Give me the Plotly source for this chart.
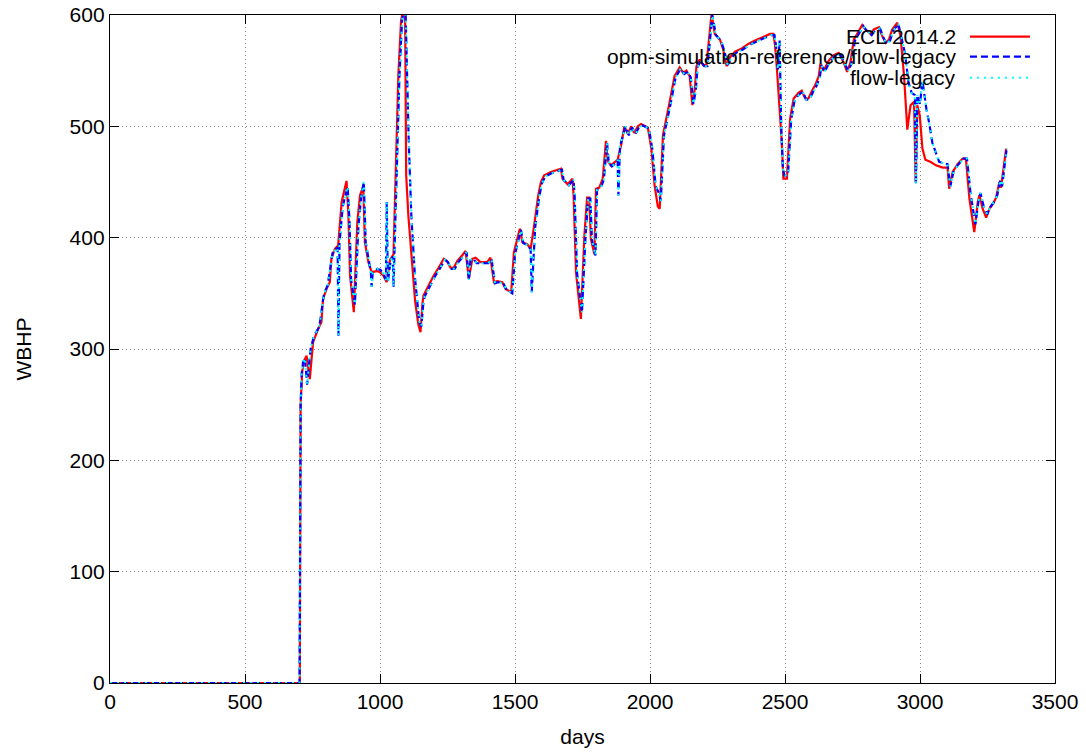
import plotly.graph_objects as go

ecl_days = [0, 700, 703, 706, 712, 720, 728, 740, 752, 771,
            783, 789, 802, 814, 820, 833, 845, 858, 876, 883,
            889, 903, 916, 926, 938, 944, 957, 969, 988, 1000,
            1012, 1025, 1037, 1050, 1062, 1068, 1078, 1083, 1093, 1097,
            1105, 1117, 1130, 1142, 1150, 1157, 1161, 1180, 1199, 1217,
            1236, 1248, 1261, 1273, 1286, 1304, 1317, 1329, 1342, 1354,
            1372, 1397, 1409, 1422, 1434, 1453, 1465, 1486, 1496, 1518,
            1527, 1546, 1558, 1571, 1586, 1596, 1608, 1633, 1670, 1676,
            1695, 1713, 1717, 1726, 1744, 1757, 1767, 1775, 1781, 1794,
            1800, 1812, 1825, 1837, 1843, 1855, 1868, 1880, 1893, 1905,
            1918, 1930, 1942, 1955, 1967, 1992, 2005, 2017, 2029, 2036,
            2048, 2061, 2073, 2091, 2110, 2123, 2135, 2147, 2157, 2166,
            2172, 2184, 2197, 2209, 2215, 2228, 2240, 2259, 2271, 2284,
            2296, 2315, 2340, 2364, 2389, 2414, 2445, 2457, 2463, 2470,
            2488, 2494, 2507, 2519, 2532, 2550, 2562, 2575, 2587, 2600,
            2612, 2625, 2631, 2643, 2662, 2680, 2699, 2718, 2730, 2742,
            2755, 2767, 2786, 2798, 2817, 2829, 2848, 2860, 2873, 2885,
            2897, 2916, 2928, 2941, 2953, 2965, 2978, 2984, 2990, 2999,
            3009, 3020, 3040, 3059, 3084, 3102, 3108, 3121, 3139, 3158,
            3170, 3183, 3201, 3214, 3220, 3232, 3245, 3257, 3270, 3282,
            3294, 3300, 3319]
ecl_wbhp = [0, 0, 0, 250, 280, 290, 294, 273, 306, 318,
            324, 345, 354, 360, 381, 390, 393, 432, 451, 420,
            366, 333, 414, 438, 446, 396, 378, 369, 370, 369,
            366, 360, 380, 385, 501, 546, 595, 601, 600, 456,
            420, 385, 343, 322, 315, 340, 348, 357, 366, 373,
            381, 379, 373, 373, 379, 384, 388, 363, 381, 382,
            378, 378, 382, 360, 361, 360, 354, 351, 387, 408,
            396, 394, 390, 411, 438, 450, 456, 459, 462, 453,
            448, 453, 438, 369, 327, 402, 436, 436, 399, 385,
            444, 445, 453, 487, 469, 465, 468, 470, 483, 500,
            493, 500, 494, 500, 502, 499, 480, 447, 428, 426,
            492, 507, 522, 545, 553, 548, 550, 545, 519, 534,
            554, 560, 555, 555, 569, 601, 583, 578, 569, 554,
            562, 567, 570, 574, 577, 580, 583, 583, 573, 552,
            486, 453, 453, 507, 525, 530, 532, 525, 525, 532,
            537, 545, 556, 550, 559, 564, 566, 557, 549, 557,
            578, 583, 591, 587, 583, 587, 589, 581, 575, 578,
            587, 593, 581, 545, 497, 519, 522, 450, 519, 510,
            480, 470, 468, 465, 463, 463, 444, 459, 466, 471,
            471, 435, 405, 432, 438, 426, 418, 426, 430, 436,
            450, 445, 480]

flow_days = [0, 702, 706, 710, 715, 722, 730, 743, 756, 775,
             787, 793, 806, 818, 824, 837, 843, 846, 850, 862,
             880, 887, 893, 907, 920, 930, 940, 947, 960, 966,
             969, 973, 990, 1002, 1014, 1022, 1025, 1029, 1040, 1048,
             1050, 1053, 1066, 1072, 1082, 1087, 1095, 1100, 1106, 1116,
             1130, 1145, 1153, 1160, 1165, 1184, 1203, 1221, 1240, 1252,
             1265, 1277, 1290, 1308, 1321, 1329, 1335, 1346, 1358, 1376,
             1401, 1413, 1426, 1438, 1457, 1469, 1490, 1500, 1522, 1531,
             1550, 1558, 1562, 1575, 1590, 1600, 1612, 1637, 1674, 1680,
             1699, 1717, 1721, 1730, 1748, 1761, 1771, 1779, 1785, 1798,
             1804, 1816, 1829, 1841, 1847, 1859, 1872, 1880, 1883, 1889,
             1897, 1909, 1922, 1934, 1946, 1959, 1971, 1996, 2009, 2021,
             2033, 2040, 2052, 2065, 2077, 2095, 2114, 2127, 2139, 2151,
             2161, 2170, 2176, 2188, 2201, 2213, 2219, 2231, 2244, 2263,
             2275, 2288, 2300, 2319, 2344, 2368, 2393, 2418, 2449, 2461,
             2467, 2474, 2480, 2486, 2492, 2498, 2511, 2523, 2536, 2554,
             2566, 2579, 2591, 2604, 2616, 2629, 2635, 2647, 2666, 2684,
             2703, 2722, 2734, 2746, 2759, 2771, 2790, 2802, 2821, 2833,
             2852, 2864, 2877, 2889, 2901, 2920, 2932, 2945, 2957, 2969,
             2981, 2985, 2990, 3000, 3009, 3024, 3034, 3046, 3071, 3102,
             3112, 3125, 3143, 3162, 3174, 3187, 3205, 3218, 3224, 3236,
             3249, 3261, 3274, 3286, 3298, 3304, 3321]
flow_wbhp = [0, 0, 250, 278, 288, 292, 268, 300, 312, 320,
             340, 350, 357, 375, 386, 390, 391, 312, 395, 428,
             446, 415, 362, 340, 410, 436, 450, 396, 378, 369,
             356, 368, 372, 371, 367, 362, 432, 360, 380, 383,
             356, 385, 498, 545, 596, 601, 600, 545, 490, 420,
             363, 325, 320, 340, 347, 356, 365, 372, 380, 378,
             372, 372, 378, 383, 387, 362, 380, 381, 377, 377,
             377, 381, 359, 360, 359, 353, 350, 385, 407, 395,
             393, 389, 351, 410, 437, 449, 455, 458, 461, 452,
             447, 452, 437, 368, 333, 400, 435, 435, 398, 384,
             443, 444, 452, 485, 468, 464, 467, 470, 438, 482,
             490, 500, 492, 499, 493, 499, 501, 498, 479, 446,
             440, 433, 492, 506, 521, 544, 552, 547, 549, 544,
             520, 533, 553, 559, 554, 554, 568, 600, 582, 577,
             568, 555, 561, 566, 569, 573, 576, 579, 582, 582,
             572, 551, 577, 500, 462, 456, 456, 506, 524, 529,
             531, 524, 524, 531, 536, 544, 555, 549, 558, 563,
             565, 556, 550, 556, 577, 582, 590, 586, 582, 586,
             588, 580, 574, 577, 586, 592, 580, 565, 540, 530,
             528, 448, 528, 520, 541, 515, 503, 485, 468, 466,
             446, 460, 466, 471, 471, 440, 412, 435, 440, 428,
             421, 428, 432, 438, 452, 446, 480]

assert len(ecl_days) == len(ecl_wbhp)
assert len(flow_days) == len(flow_wbhp)

ecl_name = "ECL 2014.2"
ref_name = "opm-simulation-reference/flow-legacy"
flow_name = "flow-legacy"
x_ticks = [0, 500, 1000, 1500, 2000, 2500, 3000, 3500]
y_ticks = [0, 100, 200, 300, 400, 500, 600]

FONT = "Liberation Sans, Arial, sans-serif"
FS = 21

fig = go.Figure()
fig.add_trace(go.Scatter(x=ecl_days, y=ecl_wbhp, mode="lines", name=ecl_name,
                         line=dict(color="#ff0000", width=2.2)))
fig.add_trace(go.Scatter(x=flow_days, y=flow_wbhp, mode="lines", name=ref_name,
                         line=dict(color="#0000ff", width=2.2, dash="7px,4px")))
fig.add_trace(go.Scatter(x=flow_days, y=flow_wbhp, mode="lines", name=flow_name,
                         line=dict(color="#00ffff", width=2, dash="2px,5px")))

# key (gnuplot-style: text right-aligned, sample on the right)
keys = [(ecl_name, "#ff0000", None, 2.2), (ref_name, "#0000ff", "7px,4px", 2.2),
        (flow_name, "#00ffff", "2px,5px", 2)]
key_y = [0.9675, 0.9376, 0.9061]
for (txt, col, dsh, w), ky in zip(keys, key_y):
    fig.add_annotation(x=0.8952, y=ky, xref="paper", yref="paper", text=txt, showarrow=False,
                       xanchor="right", yanchor="middle", xshift=2,
                       font=dict(family=FONT, size=FS, color="black"))
    fig.add_shape(type="line", xref="paper", yref="paper", x0=0.910, x1=0.9735, y0=ky, y1=ky,
                  line=dict(color=col, width=w, dash=dsh))
# key area hides grid
fig.add_shape(type="rect", xref="paper", yref="paper", x0=0.518, x1=0.995, y0=0.891, y1=0.985,
              fillcolor="white", line=dict(width=0), layer="between")

axis_common = dict(showline=True, linecolor="black", linewidth=1.3, mirror="ticks",
                   ticks="inside", ticklen=9, tickwidth=1.3, tickcolor="black",
                   showgrid=True, gridcolor="#888888", gridwidth=1, griddash="1px,3px",
                   zeroline=False, ticklabeloverflow="allow",
                   tickfont=dict(family=FONT, size=FS, color="black"))
fig.update_layout(
    width=1086, height=754,
    margin=dict(l=110, r=31, t=15, b=71, autoexpand=False),
    paper_bgcolor="white", plot_bgcolor="white",
    showlegend=False,
    font=dict(family=FONT, size=FS, color="black"),
    xaxis=dict(range=[0, 3500], tickvals=x_ticks, title=dict(text="days", standoff=16,
               font=dict(family=FONT, size=FS)), **axis_common),
    yaxis=dict(range=[0, 600], tickvals=y_ticks, title=dict(text="WBHP", standoff=32,
               font=dict(family=FONT, size=FS)), **axis_common),
)
fig.write_html("out.html", config={"displayModeBar": False},
               post_script="document.body.style.margin='0px';")
